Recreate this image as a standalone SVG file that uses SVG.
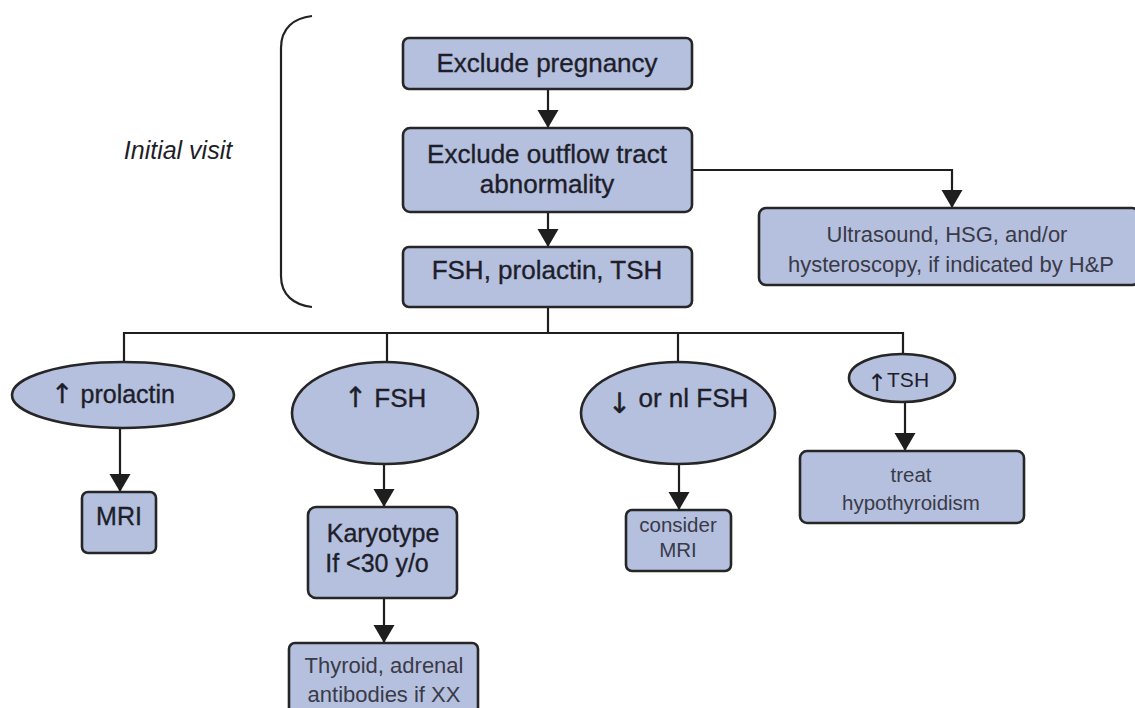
<svg xmlns="http://www.w3.org/2000/svg" width="1135" height="708" viewBox="0 0 1135 708">
  <defs>
    <marker id="arrow" markerUnits="userSpaceOnUse" markerWidth="20" markerHeight="22" refX="18" refY="10.5" orient="auto">
      <path d="M0,0 L18,10.5 L0,21 z" fill="#1e1e1e"/>
    </marker>
    <style>
      .box { fill: #b4c0de; stroke: #262626; stroke-width: 2.6; }
      .ell { fill: #b4c0de; stroke: #262626; stroke-width: 2.6; }
      .t { font-family: "Liberation Sans", Arial, sans-serif; text-anchor: middle; fill: #1e1e2a; }
      .big { font-size: 26px; stroke: #1e1e2a; stroke-width: 0.35; }
      .mid { font-size: 25px; stroke: #1e1e2a; stroke-width: 0.35; }
      .sm { font-size: 22px; fill: #3a3a48; }
      .xs { font-size: 20.5px; fill: #3a3a48; }
      .up { font-family: "DejaVu Sans", sans-serif; }
      .link { fill: none; stroke: #1e1e1e; stroke-width: 2.2; }
      .arr { fill: none; stroke: #1e1e1e; stroke-width: 2.2; marker-end: url(#arrow); }
    </style>
  </defs>
  <rect width="1135" height="708" fill="#ffffff"/>

  <!-- bracket and side label -->
  <g id="initial-visit">
    <path d="M312,16 C294,18 281,28 281,48 L281,276 C281,295 294,305 312,307" fill="none" stroke="#222" stroke-width="2.2"/>
    <text class="t" x="178" y="159" font-size="25" font-style="italic" fill="#2a2a2a">Initial visit</text>
  </g>

  <!-- connectors -->
  <g id="connectors">
    <line class="arr" x1="548" y1="89" x2="548" y2="128"/>
    <line class="arr" x1="548" y1="212" x2="548" y2="247"/>
    <polyline class="arr" points="692,170 952,170 952,208"/>
    <polyline class="link" points="548,307 548,333"/>
    <polyline class="link" points="124,362 124,333 903,333 903,355"/>
    <line class="link" x1="387" y1="333" x2="387" y2="362"/>
    <line class="link" x1="678" y1="333" x2="678" y2="362"/>
    <line class="arr" x1="120" y1="428" x2="120" y2="492"/>
    <line class="arr" x1="384" y1="464" x2="384" y2="507"/>
    <line class="arr" x1="384" y1="598" x2="384" y2="643"/>
    <line class="arr" x1="679" y1="464" x2="679" y2="510"/>
    <line class="arr" x1="905" y1="402" x2="905" y2="451"/>
  </g>

  <g id="exclude-pregnancy">
    <rect class="box" x="403" y="38" width="289" height="51" rx="6"/>
    <text class="t big" x="547" y="72">Exclude pregnancy</text>
  </g>

  <g id="exclude-outflow">
    <rect class="box" x="403" y="128" width="289" height="84" rx="7"/>
    <text class="t big" x="547" y="163">Exclude outflow tract</text>
    <text class="t big" x="547" y="193">abnormality</text>
  </g>

  <g id="labs">
    <rect class="box" x="403" y="247" width="289" height="60" rx="6"/>
    <text class="t big" x="547" y="279">FSH, prolactin, TSH</text>
  </g>

  <g id="imaging">
    <rect class="box" x="759" y="208" width="380" height="77" rx="7"/>
    <text class="t sm" x="947" y="242">Ultrasound, HSG, and/or</text>
    <text class="t sm" x="951" y="272">hysteroscopy, if indicated by H&amp;P</text>
  </g>

  <g id="high-prolactin">
    <ellipse class="ell" cx="123" cy="395" rx="111" ry="33"/>
    <text class="t mid" x="113" y="403"><tspan class="up" font-size="27">↑</tspan> prolactin</text>
  </g>

  <g id="mri">
    <rect class="box" x="82" y="492" width="74" height="61" rx="6"/>
    <text class="t mid" x="119" y="525">MRI</text>
  </g>

  <g id="high-fsh">
    <ellipse class="ell" cx="385" cy="413" rx="93" ry="51"/>
    <text class="t big" x="385" y="407"><tspan class="up" font-size="28">↑</tspan> FSH</text>
  </g>

  <g id="karyotype">
    <rect class="box" x="308" y="507" width="149" height="91" rx="8"/>
    <text class="t mid" x="383" y="542">Karyotype</text>
    <text class="t mid" x="377" y="572">If &lt;30 y/o</text>
  </g>

  <g id="antibodies">
    <rect class="box" x="289" y="643" width="189" height="72" rx="6"/>
    <text class="t sm" x="384" y="673">Thyroid, adrenal</text>
    <text class="t sm" x="384" y="702">antibodies if XX</text>
  </g>

  <g id="low-fsh">
    <ellipse class="ell" cx="678" cy="413" rx="97" ry="51"/>
    <text class="t big" x="678" y="407"><tspan class="up" font-size="28" dy="6">↓</tspan><tspan dy="-6"> or nl FSH</tspan></text>
  </g>

  <g id="consider-mri">
    <rect class="box" x="626" y="510" width="105" height="61" rx="6"/>
    <text class="t xs" x="678" y="532">consider</text>
    <text class="t xs" x="678" y="557">MRI</text>
  </g>

  <g id="high-tsh">
    <ellipse class="ell" cx="902" cy="378" rx="53" ry="24"/>
    <text class="t" x="898" y="387" font-size="21"><tspan class="up" font-size="24" dy="4">↑</tspan><tspan dy="-4">TSH</tspan></text>
  </g>

  <g id="treat">
    <rect class="box" x="800" y="451" width="224" height="72" rx="7"/>
    <text class="t xs" x="911" y="482">treat</text>
    <text class="t xs" x="911" y="510">hypothyroidism</text>
  </g>
</svg>
